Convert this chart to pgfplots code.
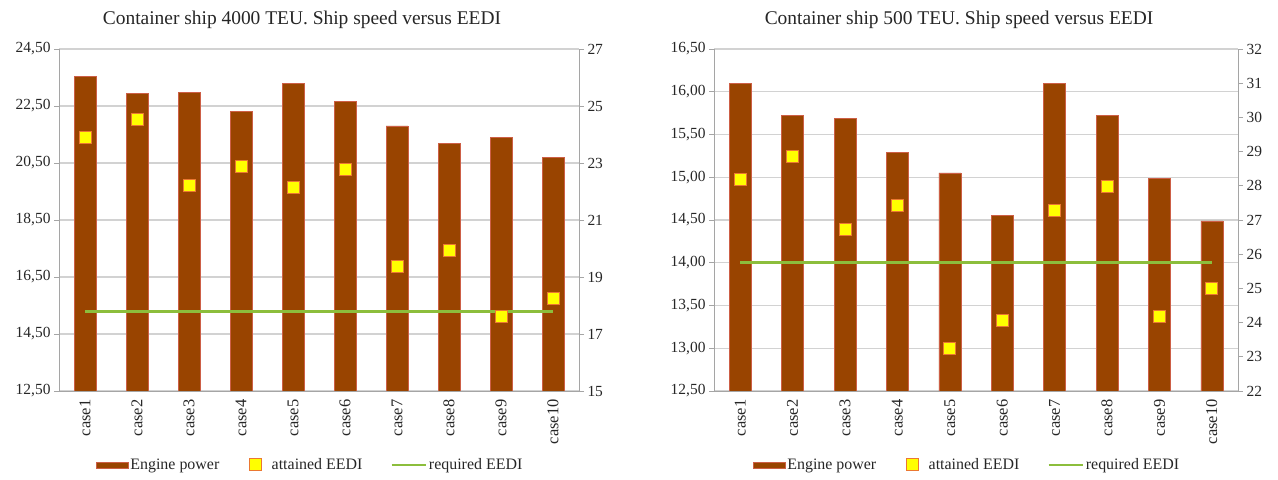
\documentclass[border=0pt]{standalone}
\usepackage{fontspec}
\setmainfont{Liberation Serif}
\usepackage{pgfplots}
\usepackage{pgfplotstable}
\pgfplotsset{compat=1.18}
\definecolor{barc}{RGB}{153,68,0}
\definecolor{bard}{RGB}{205,95,70}
\definecolor{sqf}{RGB}{255,255,0}
\definecolor{sqd}{RGB}{235,120,50}
\definecolor{grn}{RGB}{140,190,60}
\definecolor{axc}{RGB}{165,165,165}
\definecolor{grd}{RGB}{210,210,210}

\pgfplotstableread{
x power eedi
1  23.55 23.90
2  22.94 24.54
3  22.98 22.20
4  22.30 22.89
5  23.29 22.15
6  22.67 22.78
7  21.80 19.36
8  21.19 19.92
9  21.40 17.61
10 20.69 18.25
}\leftdata

\pgfplotstableread{
x power eedi
1  16.10 28.20
2  15.72 28.87
3  15.69 26.73
4  15.29 27.44
5  15.05 23.25
6  14.55 24.05
7  16.10 27.29
8  15.72 27.97
9  14.99 24.17
10 14.49 25.00
}\rightdata

\pgfplotsset{
  base/.style={
    scale only axis, height=342bp,
    xmin=0.5, xmax=10.5,
    axis line style={axc, line width=0.9bp},
    tick style={axc, line width=0.9bp},
    tick align=outside, major tick length=5bp,
    /pgf/number format/assume math mode=true,
    yticklabel style={font=\fontsize{15.5}{15.5}\selectfont, text=black!85},
    xticklabel style={font=\fontsize{16.5}{16.5}\selectfont, text=black!85},
  },
  leftax/.style={
    base,
    axis y line*=left, axis x line*=bottom,
    xtick={1,...,10},
    xticklabels={case1,case2,case3,case4,case5,case6,case7,case8,case9,case10},
    xticklabel style={rotate=90, anchor=east},
    xtick style={draw=none},
    ymajorgrids, grid style={grd, line width=1.2bp},
    yticklabel style={/pgf/number format/.cd, fixed, fixed zerofill, precision=2, use comma},
    title style={font=\fontsize{19.5}{19.5}\selectfont, text=black!85, at={(0.5,1)}, anchor=center, yshift=23bp, xshift=-17bp},
  },
  rightax/.style={
    base,
    axis y line*=right, axis x line=none,
    yticklabel style={/pgf/number format/.cd, fixed, precision=0},
    legend columns=3,
    legend style={draw=none, fill=none, font=\fontsize{16}{16}\selectfont, text=black!85,
      at={(0.483,-0.216)}, anchor=center,
      /tikz/every even column/.append style={column sep=26bp}},
  },
  barleg/.style={legend image code/.code={\fill[barc, draw=bard] (0bp,-3bp) rectangle (32bp,3bp);}},
  sqleg/.style={legend image code/.code={\path (0bp,0bp) (22bp,0bp);\draw[fill=sqf, draw=sqd, line width=0.8bp] (2bp,-6bp) rectangle (14bp,6bp);}},
  lineleg/.style={legend image code/.code={\draw[grn, line width=2.5bp] (0bp,0bp) -- (34bp,0bp);}},
  sqplot/.style={only marks, mark=square*, mark size=6bp, mark options={fill=sqf, draw=sqd, line width=0.8bp}, sqleg},
  lnplot/.style={grn, line width=3bp, lineleg},
  barplot/.style={ybar, bar width=0.42, fill=barc, draw=bard, line width=0.6bp},
}

\begin{document}
\begin{tikzpicture}
\useasboundingbox (0,0) rectangle (1278bp,480bp);

% ---------- left chart ----------
\begin{axis}[leftax, width=520bp, at={(59bp,89bp)}, anchor=south west,
  ymin=12.5, ymax=24.5, ytick={12.5,14.5,...,24.5},
  title={Container ship 4000 TEU. Ship speed versus EEDI}]
\addplot[barplot] table[x=x, y=power] {\leftdata};
\end{axis}
\begin{axis}[rightax, width=520bp, at={(59bp,89bp)}, anchor=south west,
  ymin=15, ymax=27, ytick={15,17,...,27}]
\addlegendimage{barleg}
\addlegendentry{Engine power}
\addplot[sqplot] table[x=x, y=eedi] {\leftdata};
\addlegendentry{attained EEDI}
\addplot[lnplot] coordinates {(1,17.78) (10,17.78)};
\addlegendentry{required EEDI}
\end{axis}

% ---------- right chart ----------
\begin{axis}[leftax, width=524bp, at={(714bp,89bp)}, anchor=south west,
  ymin=12.5, ymax=16.5, ytick={12.5,13,...,16.5},
  title={Container ship 500 TEU. Ship speed versus EEDI}]
\addplot[barplot] table[x=x, y=power] {\rightdata};
\end{axis}
\begin{axis}[rightax, width=524bp, at={(714bp,89bp)}, anchor=south west,
  ymin=22, ymax=32, ytick={22,23,...,32}]
\addlegendimage{barleg}
\addlegendentry{Engine power}
\addplot[sqplot] table[x=x, y=eedi] {\rightdata};
\addlegendentry{attained EEDI}
\addplot[lnplot] coordinates {(1,25.76) (10,25.76)};
\addlegendentry{required EEDI}
\end{axis}

\end{tikzpicture}
\end{document}
